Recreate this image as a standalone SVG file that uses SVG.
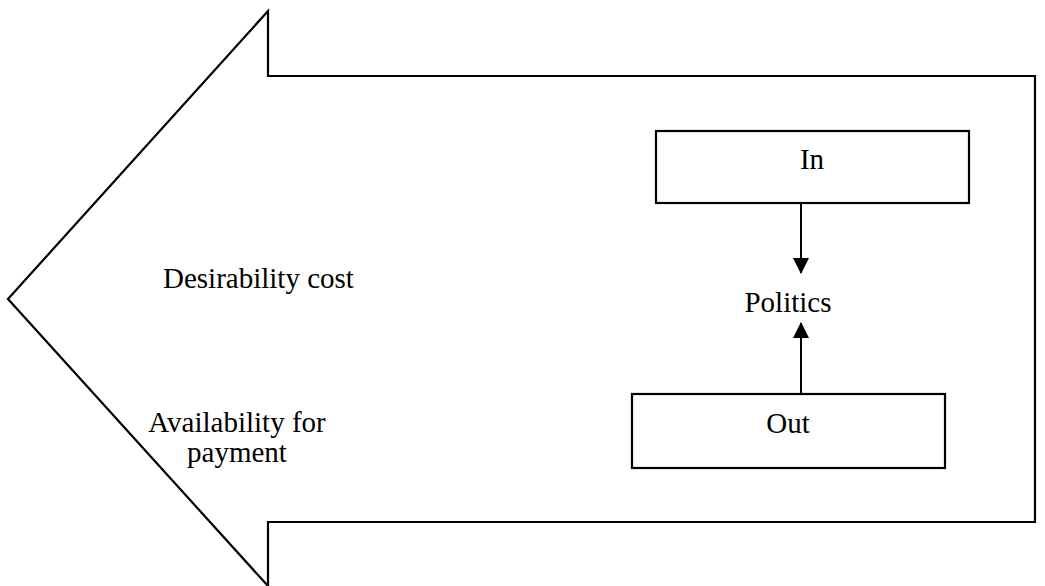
<svg xmlns="http://www.w3.org/2000/svg" width="1045" height="586" viewBox="0 0 1045 586">
<style>
.t{font-family:"Liberation Serif","Times New Roman",serif;font-size:29px;fill:#000}
.s{fill:#fff;stroke:#000;stroke-width:2.2}
.c{stroke:#000;stroke-width:2;fill:none}
</style>
<defs>
<marker id="ah" viewBox="0 0 16 16" refX="15" refY="8" markerWidth="16" markerHeight="16" markerUnits="userSpaceOnUse" orient="auto">
<path d="M0,0 L16,8 L0,16 Z" fill="#000"/>
</marker>
</defs>
<rect width="1045" height="586" fill="#fff"/>
<g id="bigarrow">
<path class="s" d="M8,299 L268,11 L268,76 L1035,76 L1035,522 L268,522 L268,586 Z"/>
</g>
<g id="desirability">
<text class="t" x="163" y="288">Desirability cost</text>
</g>
<g id="availability">
<text class="t" x="237" y="432" text-anchor="middle">Availability for</text>
<text class="t" x="237" y="462" text-anchor="middle">payment</text>
</g>
<g id="in">
<rect class="s" x="656" y="131" width="313" height="72"/>
<text class="t" x="812" y="169" text-anchor="middle">In</text>
</g>
<g id="politics">
<text class="t" x="788" y="312" text-anchor="middle">Politics</text>
</g>
<g id="out">
<rect class="s" x="632" y="394" width="313" height="74"/>
<text class="t" x="788" y="433" text-anchor="middle">Out</text>
</g>
<g id="connectors">
<line class="c" x1="801" y1="203" x2="801" y2="273" marker-end="url(#ah)"/>
<line class="c" x1="801" y1="394" x2="801" y2="323" marker-end="url(#ah)"/>
</g>
</svg>
